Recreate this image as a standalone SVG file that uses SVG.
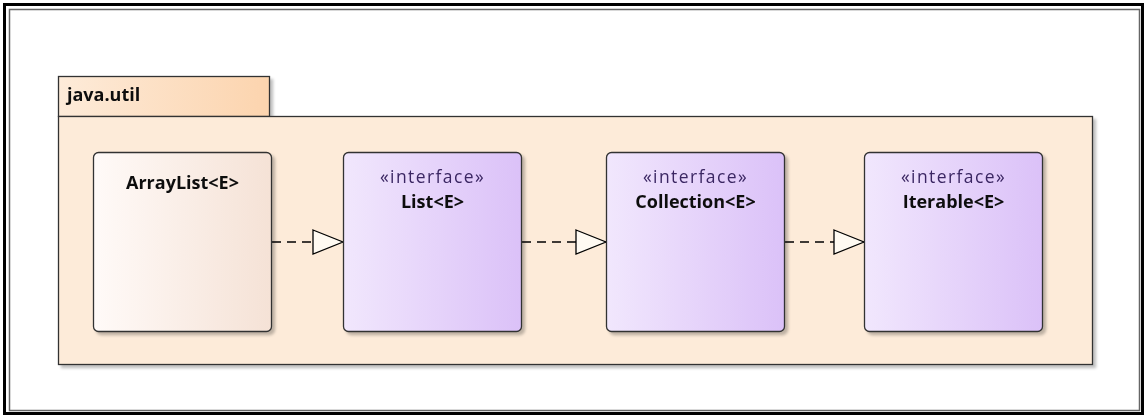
<svg xmlns="http://www.w3.org/2000/svg" width="1146" height="415" viewBox="0 0 1146 415">
<defs>
<linearGradient id="gCls" x1="0" y1="0" x2="1" y2="0">
<stop offset="0" stop-color="#fffaf8"/><stop offset="1" stop-color="#f5e2d6"/>
</linearGradient>
<linearGradient id="gInt" x1="0" y1="0" x2="1" y2="0">
<stop offset="0" stop-color="#f1e7fd"/><stop offset="1" stop-color="#dbc1f8"/>
</linearGradient>
<linearGradient id="gTab" x1="0" y1="0" x2="1" y2="0">
<stop offset="0" stop-color="#fdebd9"/><stop offset="1" stop-color="#fcd4ae"/>
</linearGradient>
<marker id="real" markerWidth="32" markerHeight="26" refX="31" refY="13" orient="auto" markerUnits="userSpaceOnUse">
<path d="M1,1 L31,13 L1,25 Z" fill="#fffaf2" stroke="#000" stroke-width="1.3"/>
</marker>
<filter id="sh" x="-5%" y="-5%" width="115%" height="115%">
<feGaussianBlur in="SourceAlpha" stdDeviation="1.5"/>
<feOffset dx="3" dy="3"/>
<feComponentTransfer><feFuncA type="linear" slope="0.25"/></feComponentTransfer>
<feMerge><feMergeNode/><feMergeNode in="SourceGraphic"/></feMerge>
</filter>
</defs>
<style>
.node{stroke:#333;stroke-width:1.3}
.st{font-family:"Open Sans","Noto Sans",sans-serif;font-size:17.5px;letter-spacing:1.4px;fill:#3b2763;text-anchor:middle}
.nm{font-family:"Open Sans","Noto Sans",sans-serif;font-size:18px;font-weight:bold;fill:#111;text-anchor:middle}
.con{stroke:#000;stroke-width:1.3;stroke-dasharray:9,6;fill:none}
</style>
<rect x="0" y="0" width="1146" height="415" fill="#fff"/>
<g id="frame" fill="none">
<rect x="4.5" y="4.5" width="1138" height="409" stroke="#000" stroke-width="3"/>
<rect x="9.5" y="9.5" width="1130" height="401" stroke="#666" stroke-width="1.5"/>
</g>
<g id="package" filter="url(#sh)">
<rect x="58.5" y="76.5" width="211" height="40" fill="url(#gTab)" stroke="#333" stroke-width="1.3"/>
<rect x="58.5" y="116.5" width="1034" height="248" fill="#fdebd9" stroke="#333" stroke-width="1.3"/>
<text x="67" y="101" font-family="'Open Sans','Noto Sans',sans-serif" font-size="18" font-weight="bold" fill="#111">java.util</text>
</g>
<g id="connectors">
<line class="con" x1="272" y1="242" x2="343" y2="242" marker-end="url(#real)"/>
<line class="con" x1="522" y1="242" x2="606" y2="242" marker-end="url(#real)"/>
<line class="con" x1="785" y1="242" x2="864" y2="242" marker-end="url(#real)"/>
</g>
<g id="ArrayList" filter="url(#sh)">
<rect class="node" x="93.5" y="152.5" width="178" height="179" rx="5" fill="url(#gCls)"/>
<text class="nm" x="182.5" y="189">ArrayList&lt;E&gt;</text>
</g>
<g id="List" filter="url(#sh)">
<rect class="node" x="343.5" y="152.5" width="178" height="179" rx="5" fill="url(#gInt)"/>
<text class="st" x="432.5" y="183">«interface»</text>
<text class="nm" x="432.5" y="208">List&lt;E&gt;</text>
</g>
<g id="Collection" filter="url(#sh)">
<rect class="node" x="606.5" y="152.5" width="178" height="179" rx="5" fill="url(#gInt)"/>
<text class="st" x="695.5" y="183">«interface»</text>
<text class="nm" x="695.5" y="208">Collection&lt;E&gt;</text>
</g>
<g id="Iterable" filter="url(#sh)">
<rect class="node" x="864.5" y="152.5" width="178" height="179" rx="5" fill="url(#gInt)"/>
<text class="st" x="953.5" y="183">«interface»</text>
<text class="nm" x="953.5" y="208">Iterable&lt;E&gt;</text>
</g>
</svg>
